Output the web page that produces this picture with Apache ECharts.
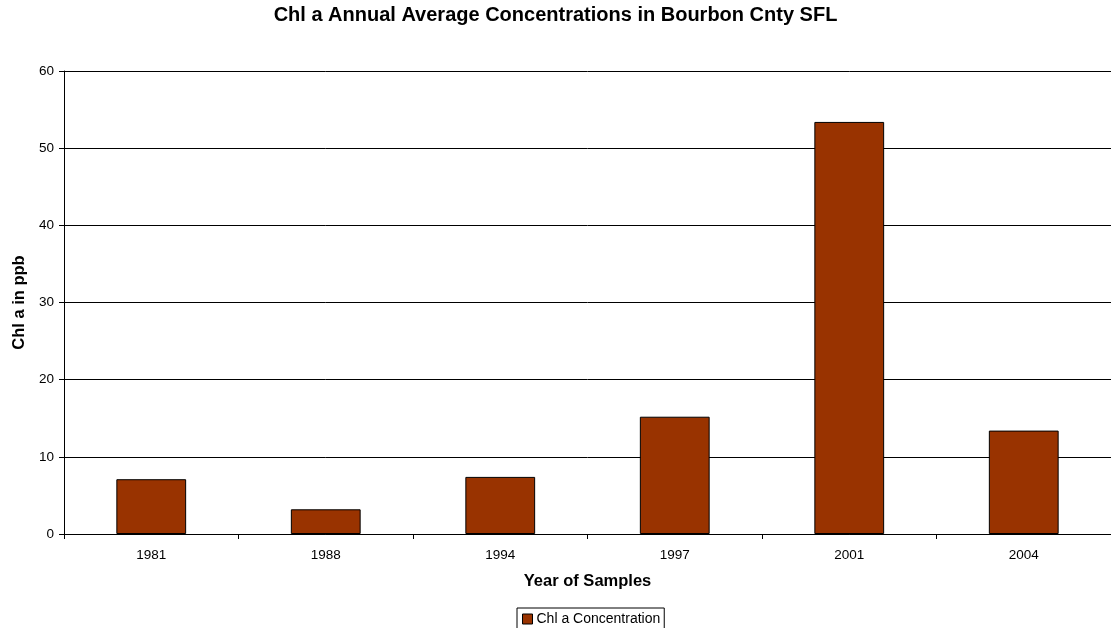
<!DOCTYPE html>
<html>
<head>
<meta charset="utf-8">
<script src="https://cdn.jsdelivr.net/npm/echarts@6/dist/echarts.min.js"></script>
<style>html,body{margin:0;padding:0;background:#fff}#c{width:1111px;height:628px}</style>
</head>
<body>
<div id="c"></div>
<script>
const categories = ['1981', '1988', '1994', '1997', '2001', '2004'];
const chlValues = [7.1, 3.2, 7.4, 15.2, 53.4, 13.4];
const seriesName = 'Chl a Concentration';
const yTicks = { min: 0, max: 60, interval: 10 };

const FONT = 'Liberation Sans, Arial, sans-serif';
const chart = echarts.init(document.getElementById('c'), null, { renderer: 'canvas' });
chart.setOption({
  animation: false,
  backgroundColor: '#fff',
  textStyle: { fontFamily: FONT },
  title: {
    text: 'Chl a Annual Average Concentrations in Bourbon Cnty SFL',
    left: 'center', top: 0, padding: [5, 5, 5, 5],
    textStyle: { fontSize: 20, fontWeight: 'bold', color: '#000', fontFamily: FONT }
  },
  legend: {
    data: [seriesName],
    left: 517, top: 608,
    itemWidth: 10, itemHeight: 10, itemGap: 4,
    icon: 'rect',
    borderColor: '#000', borderWidth: 1, borderRadius: 0,
    padding: [4, 4, 4, 5],
    textStyle: { fontSize: 14, color: '#000', padding: [0, 0, 0, -1], fontFamily: FONT },
    itemStyle: { borderColor: '#000', borderWidth: 1 }
  },
  grid: { left: 64, width: 1056, top: 71, height: 463, containLabel: false },
  xAxis: {
    type: 'category',
    data: categories,
    name: 'Year of Samples',
    nameLocation: 'middle', nameGap: 39,
    nameTextStyle: { fontSize: 16.5, fontWeight: 'bold', color: '#000', fontFamily: FONT },
    axisLine: { lineStyle: { color: '#000', width: 1 } },
    axisTick: { show: true, length: 5, lineStyle: { color: '#000' } },
    axisLabel: { fontSize: 13.5, color: '#000', margin: 14, fontFamily: FONT },
    splitLine: { show: false }
  },
  yAxis: {
    type: 'value',
    min: yTicks.min, max: yTicks.max, interval: yTicks.interval,
    name: 'Chl a in ppb',
    nameLocation: 'middle', nameGap: 33, nameRotate: 90,
    nameTextStyle: { fontSize: 16.5, fontWeight: 'bold', color: '#000', fontFamily: FONT },
    axisLine: { show: true, lineStyle: { color: '#000', width: 1 } },
    axisTick: { show: true, length: 5, lineStyle: { color: '#000' } },
    axisLabel: { fontSize: 13.5, color: '#000', margin: 10, fontFamily: FONT },
    splitLine: { show: true, lineStyle: { color: '#000', width: 1 } }
  },
  series: [{
    name: seriesName,
    type: 'bar',
    data: chlValues,
    barWidth: '40%',
    itemStyle: { color: '#993300', borderColor: '#000', borderWidth: 1 }
  }]
});
</script>
</body>
</html>
